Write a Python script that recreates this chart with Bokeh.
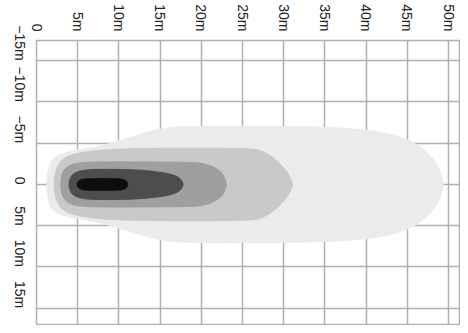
import math
from bokeh.plotting import figure
from bokeh.models import Range1d, FixedTicker
from bokeh.embed import file_html
from bokeh.resources import INLINE

# Tick positions and labels
x_ticks = [0, 5, 10, 15, 20, 25, 30, 35, 40, 45, 50]
x_labels = ["0", "5m", "10m", "15m", "20m", "25m", "30m", "35m", "40m", "45m", "50m"]
y_ticks = [-15, -10, -5, 0, 5, 10, 15]
y_labels = ["\u221215m", "\u221210m", "\u22125m", "0", "5m", "10m", "15m"]

# Beam contour profiles: distance (m) and half-width (m)
outer_x = [1.2, 1.4, 1.8, 2.6, 4.0, 6.0, 8.0, 10.0, 12.0, 14.0, 16.0, 19.0, 30.0, 36.0, 40.0, 42.0, 44.0, 46.0, 47.5, 48.5, 49.1, 49.4]
outer_w = [0, 1.8, 2.9, 3.5, 4.0, 4.3, 4.7, 5.3, 5.9, 6.5, 6.9, 7.05, 7.05, 6.9, 6.6, 6.3, 5.8, 5.0, 3.8, 2.6, 1.3, 0]
lvl2_x = [2.1, 2.3, 2.8, 3.5, 5, 7, 10, 14, 26, 27.5, 28.5, 29.5, 30.5, 31.2]
lvl2_w = [0, 1.6, 2.7, 3.3, 3.8, 4.1, 4.3, 4.4, 4.4, 4.0, 3.4, 2.6, 1.4, 0]
lvl3_x = [2.9, 3.1, 3.6, 4.5, 6, 9, 19, 20.5, 21.8, 22.7, 23.1]
lvl3_w = [0, 1.4, 2.1, 2.5, 2.7, 2.75, 2.7, 2.5, 2.0, 1.2, 0]
lvl4_x = [3.9, 4.1, 4.6, 5.5, 7, 12, 15, 16.5, 17.4, 17.9]
lvl4_w = [0, 0.9, 1.4, 1.7, 1.85, 1.8, 1.5, 1.2, 0.8, 0]
lvl5_x = [4.9, 5.05, 5.4, 6.0, 10.0, 10.6, 10.95, 11.1]
lvl5_w = [0, 0.4, 0.6, 0.7, 0.7, 0.6, 0.4, 0]

levels = [(outer_x, outer_w), (lvl2_x, lvl2_w), (lvl3_x, lvl3_w), (lvl4_x, lvl4_w), (lvl5_x, lvl5_w)]
colors = ["#ebebeb", "#c9c9c9", "#9f9f9f", "#4d4d4d", "#0d0d0d"]


def outline(xs, ws):
    px = list(xs) + list(reversed(xs))[1:-1]
    py = [-w for w in ws] + [w for w in reversed(ws)][1:-1]
    # Chaikin smoothing on the closed polygon
    for _ in range(3):
        nx, ny = [], []
        n = len(px)
        for i in range(n):
            x0, y0 = px[i], py[i]
            x1, y1 = px[(i + 1) % n], py[(i + 1) % n]
            nx += [0.75 * x0 + 0.25 * x1, 0.25 * x0 + 0.75 * x1]
            ny += [0.75 * y0 + 0.25 * y1, 0.25 * y0 + 0.75 * y1]
        px, py = nx, ny
    return px, py


p = figure(width=460, height=325, output_backend="svg", toolbar_location=None,
           x_range=Range1d(0, 51.45), y_range=Range1d(17.1, -17.45),
           x_axis_location="above", min_border_left=36, min_border_top=40,
           min_border_right=0, min_border_bottom=0)

grid_col = "#b5adaf"
p.outline_line_color = grid_col
p.outline_line_width = 1.5
p.background_fill_color = "white"
p.border_fill_color = "white"

for ax in (p.xaxis[0], p.yaxis[0]):
    ax.axis_line_color = None
    ax.major_tick_line_color = None
    ax.minor_tick_line_color = None
    ax.major_tick_out = 0
    ax.major_tick_in = 0
    ax.major_label_text_font = "Liberation Sans"
    ax.major_label_text_font_size = "14px"
    ax.major_label_text_color = "#222222"
    ax.major_label_orientation = -math.pi / 2

p.xaxis.ticker = FixedTicker(ticks=x_ticks)
p.xaxis.major_label_overrides = {t: l for t, l in zip(x_ticks, x_labels)}
p.xaxis.major_label_standoff = 9
p.yaxis.ticker = FixedTicker(ticks=y_ticks)
p.yaxis.major_label_overrides = {t: l for t, l in zip(y_ticks, y_labels)}
p.yaxis.major_label_standoff = 17

p.xgrid.ticker = FixedTicker(ticks=x_ticks)
p.ygrid.ticker = FixedTicker(ticks=y_ticks)
for g in (p.xgrid[0], p.ygrid[0]):
    g.grid_line_color = grid_col
    g.grid_line_width = 1.5

xs_all, ys_all = [], []
for (lx, lw) in levels:
    a, b = outline(lx, lw)
    xs_all.append(a)
    ys_all.append(b)

p.patches(xs_all, ys_all, fill_color=colors, line_color=colors, line_width=1)

open("out.html", "w").write(file_html(p, INLINE))
